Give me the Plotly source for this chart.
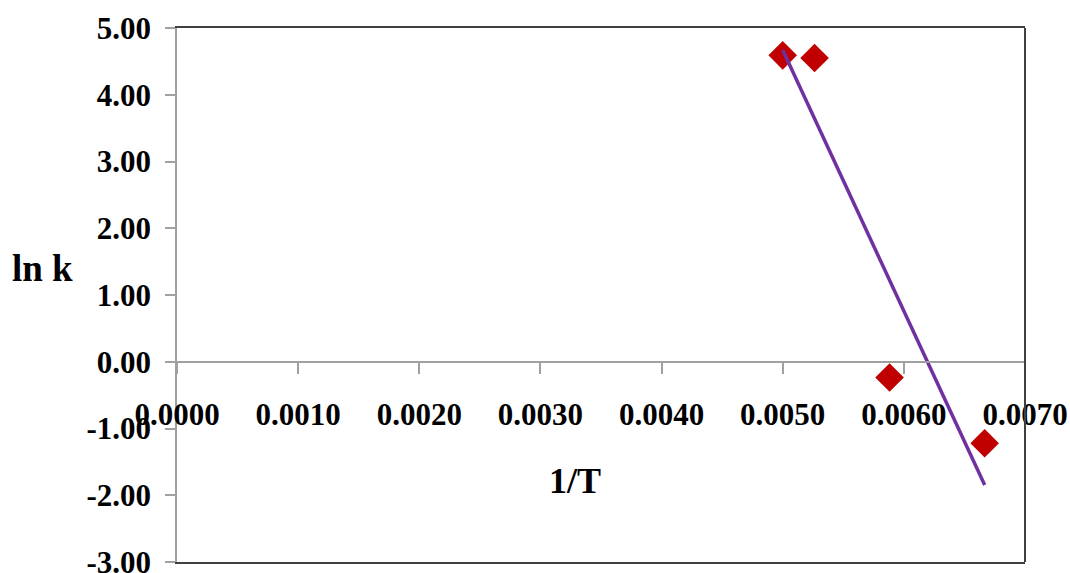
import numpy as np
import plotly.graph_objects as go

# Data
inv_T = [0.005000, 0.005263, 0.005882, 0.006667]
ln_k = [4.59, 4.55, -0.235, -1.22]

y_tickvals = [-3, -2, -1, 0, 1, 2, 3, 4, 5]
y_ticktext = ["-3.00", "-2.00", "-1.00", "0.00", "1.00", "2.00", "3.00", "4.00", "5.00"]
x_tickvals = [0.000, 0.001, 0.002, 0.003, 0.004, 0.005, 0.006, 0.007]
x_ticktext = ["0.0000", "0.0010", "0.0020", "0.0030", "0.0040", "0.0050", "0.0060", "0.0070"]

# Linear trend line (least squares) over the data span
slope, intercept = np.polyfit(inv_T, ln_k, 1)
trend_x = [min(inv_T), max(inv_T)]
trend_y = [slope * v + intercept for v in trend_x]

FONT = "Liberation Serif"
Y_MIN, Y_MAX = -3, 5

fig = go.Figure()
fig.add_trace(go.Scatter(
    x=inv_T, y=ln_k, mode="markers",
    marker=dict(symbol="diamond", size=22, color="#C00000"),
    showlegend=False, hoverinfo="skip",
))
fig.add_trace(go.Scatter(
    x=trend_x, y=trend_y, mode="lines",
    line=dict(color="#7030A0", width=3.5),
    showlegend=False, hoverinfo="skip",
))

fig.update_layout(
    width=1070, height=573,
    margin=dict(l=177, r=45, t=28, b=11, autoexpand=False),
    paper_bgcolor="white", plot_bgcolor="white",
    font=dict(family=FONT, color="black"),
    xaxis=dict(
        range=[0, 0.007], showgrid=False, zeroline=False, automargin=False,
        showline=True, linecolor="#404040", linewidth=2, mirror=True,
        showticklabels=False, ticks="",
    ),
    xaxis2=dict(
        overlaying="x", matches="x", anchor="free", automargin=False,
        position=(0 - Y_MIN) / (Y_MAX - Y_MIN),
        showgrid=False, zeroline=False,
        showline=True, linecolor="#A0A0A0", linewidth=1.5,
        ticks="outside", ticklen=11, tickcolor="#A0A0A0", tickwidth=1.5,
        tickvals=x_tickvals, ticktext=x_ticktext,
        tickfont=dict(family=FONT, size=31, color="black", weight="bold"),
        ticklabelstandoff=14, ticklabeloverflow="allow",
    ),
    yaxis=dict(
        range=[Y_MIN, Y_MAX], showgrid=False, zeroline=False, automargin=False,
        showline=True, linecolor="#A0A0A0", linewidth=1.5,
        ticks="outside", ticklen=10, tickcolor="#A0A0A0", tickwidth=1.5,
        tickvals=y_tickvals, ticktext=y_ticktext,
        tickfont=dict(family=FONT, size=31, color="black", weight="bold"),
        ticklabelstandoff=8, ticklabeloverflow="allow",
    ),
    shapes=[dict(type="line", xref="paper", yref="paper", x0=1, x1=1, y0=0, y1=1,
                 line=dict(color="#404040", width=2))],
    annotations=[
        dict(text="ln k", xref="paper", yref="paper", x=-0.159, y=0.55,
             xanchor="center", yanchor="middle", showarrow=False,
             font=dict(family=FONT, size=37, color="black", weight="bold")),
        dict(text="1/T", xref="paper", yref="paper", x=0.469, y=0.151,
             xanchor="center", yanchor="middle", showarrow=False,
             font=dict(family=FONT, size=36, color="black", weight="bold")),
    ],
)
# dummy trace so xaxis2 is rendered
fig.add_trace(go.Scatter(x=[None], y=[None], xaxis="x2", showlegend=False, hoverinfo="skip"))

fig.write_html(
    "out.html",
    config={"displayModeBar": False},
    post_script="document.body.style.margin='0';document.body.style.overflow='hidden';",
)
